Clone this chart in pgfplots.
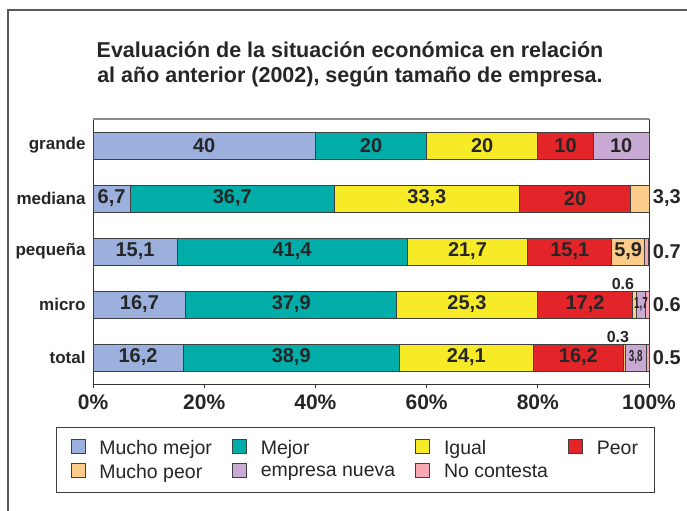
\documentclass[border=0pt]{standalone}
\usepackage{pgfplots}
\pgfplotsset{compat=1.18}
\usepackage{graphicx}
\usepackage{fontspec}
\setmainfont{Liberation Sans}
\definecolor{cMM}{HTML}{9BB0DD}
\definecolor{cM}{HTML}{00ADA9}
\definecolor{cI}{HTML}{F7EB28}
\definecolor{cP}{HTML}{E32428}
\definecolor{cMP}{HTML}{FDCB8A}
\definecolor{cEN}{HTML}{C9AAD4}
\definecolor{cNC}{HTML}{F6A8B2}
\begin{document}
\begin{tikzpicture}
\useasboundingbox (0,0) rectangle (687bp,511bp);
\draw[line width=1.5bp, black!65] (8bp,0bp) -- (8bp,501bp) -- (687bp,501bp);
\node[font=\fontsize{21.5bp}{25bp}\selectfont\bfseries, align=center, text=black!85] at (350bp,447bp) {Evaluación de la situación económica en relación\\al año anterior (2002), según tamaño de empresa.};
\begin{axis}[
  at={(93bp,127bp)}, anchor=south west,
  scale only axis, width=556bp, height=265bp,
  xmin=0, xmax=100, ymin=-0.5, ymax=4.5, y dir=reverse,
  xbar stacked, bar width=27bp,
  axis line style={black!80, line width=1bp},
  xtick={0,20,...,100}, xticklabels={0\%,20\%,40\%,60\%,80\%,100\%},
  ytick={0,...,4}, yticklabels={grande,mediana,pequeña,micro,total},
  minor ytick={-0.5,0.5,...,4.5},
  xtick pos=bottom, ytick pos=left,
  tick align=outside,
  major tick length=4bp, minor tick length=5bp,
  ytick style={draw=none},
  minor tick style={black!80, line width=1bp},
  xtick style={black!80, line width=1bp},
  xticklabel style={font=\fontsize{21bp}{22bp}\selectfont\bfseries, text=black!85, yshift=-3bp},
  yticklabel style={font=\fontsize{17bp}{18bp}\selectfont\bfseries, text=black!85},
  every axis plot/.append style={draw=black!75, line width=0.8bp},
  legend columns=4,
  legend cell align=left,
  legend style={at={(-0.0665,-0.1623)}, anchor=north west, draw=black!75, line width=1bp,
    font=\fontsize{19.5bp}{22bp}\selectfont, text=black!85,
    inner xsep=14bp, inner ysep=11bp, row sep=4bp,
    /tikz/every odd column/.append style={column sep=12bp},
    /tikz/every even column/.append style={column sep=18bp}},
  legend image code/.code={\draw[#1, draw=black!75, line width=0.8bp] (0bp,-5bp) rectangle (14bp,9bp);},
]
\addplot[fill=cMM] coordinates {(40,0) (6.7,1) (15.1,2) (16.7,3) (16.2,4)};
\addplot[fill=cM] coordinates {(20,0) (36.7,1) (41.4,2) (37.9,3) (38.9,4)};
\addplot[fill=cI] coordinates {(20,0) (33.3,1) (21.7,2) (25.3,3) (24.1,4)};
\addplot[fill=cP] coordinates {(10,0) (20,1) (15.1,2) (17.2,3) (16.2,4)};
\addplot[fill=cMP] coordinates {(0,0) (3.3,1) (5.9,2) (0.6,3) (0.3,4)};
\addplot[fill=cEN] coordinates {(10,0) (0,1) (0,2) (1.7,3) (3.8,4)};
\addplot[fill=cNC] coordinates {(0,0) (0,1) (0.7,2) (0.6,3) (0.5,4)};
\legend{Mucho mejor,Mejor,Igual,Peor,Mucho peor,empresa nueva,No contesta}
\end{axis}
\begin{axis}[
  at={(93bp,127bp)}, anchor=south west,
  scale only axis, width=556bp, height=265bp,
  xmin=0, xmax=100, ymin=-0.5, ymax=4.5, y dir=reverse,
  hide axis, clip=false,
  every node near coord/.append style={anchor=center, text=black!85},
]
\draw[black!45, line width=1.2bp] (rel axis cs:0,1) -- (rel axis cs:1,1);
\addplot[draw=none, mark=none, nodes near coords, point meta=explicit symbolic,
  every node near coord/.append style={font=\fontsize{20bp}{22bp}\selectfont\bfseries}]
  table[meta=lab] {
x y lab
20 0 40
50 0 20
70 0 20
85 0 10
95 0 10
3.35 1 {6,7}
25.05 1 {36,7}
60.05 1 {33,3}
86.7 1 20
7.55 2 {15,1}
35.8 2 {41,4}
67.35 2 {21,7}
85.75 2 {15,1}
96.25 2 {5,9}
8.35 3 {16,7}
35.65 3 {37,9}
67.25 3 {25,3}
88.5 3 {17,2}
8.1 4 {16,2}
35.65 4 {38,9}
67.15 4 {24,1}
87.3 4 {16,2}
103.2 1 {3,3}
103.2 2 0.7
103.2 3 0.6
103.2 4 0.5
};
\addplot[draw=none, mark=none, nodes near coords={\scalebox{0.62}[1]{\pgfplotspointmeta}}, point meta=explicit symbolic,
  every node near coord/.append style={font=\fontsize{16bp}{17bp}\selectfont\bfseries, inner sep=0pt}]
  table[meta=lab] {
x y lab
98.55 3 {1,7}
97.6 4 {3,8}
};
\addplot[draw=none, mark=none, nodes near coords, point meta=explicit symbolic,
  every node near coord/.append style={font=\fontsize{16bp}{17bp}\selectfont\bfseries}]
  table[meta=lab] {
x y lab
95.3 2.62 0.6
94.4 3.62 0.3
};
\end{axis}
\end{tikzpicture}
\end{document}
